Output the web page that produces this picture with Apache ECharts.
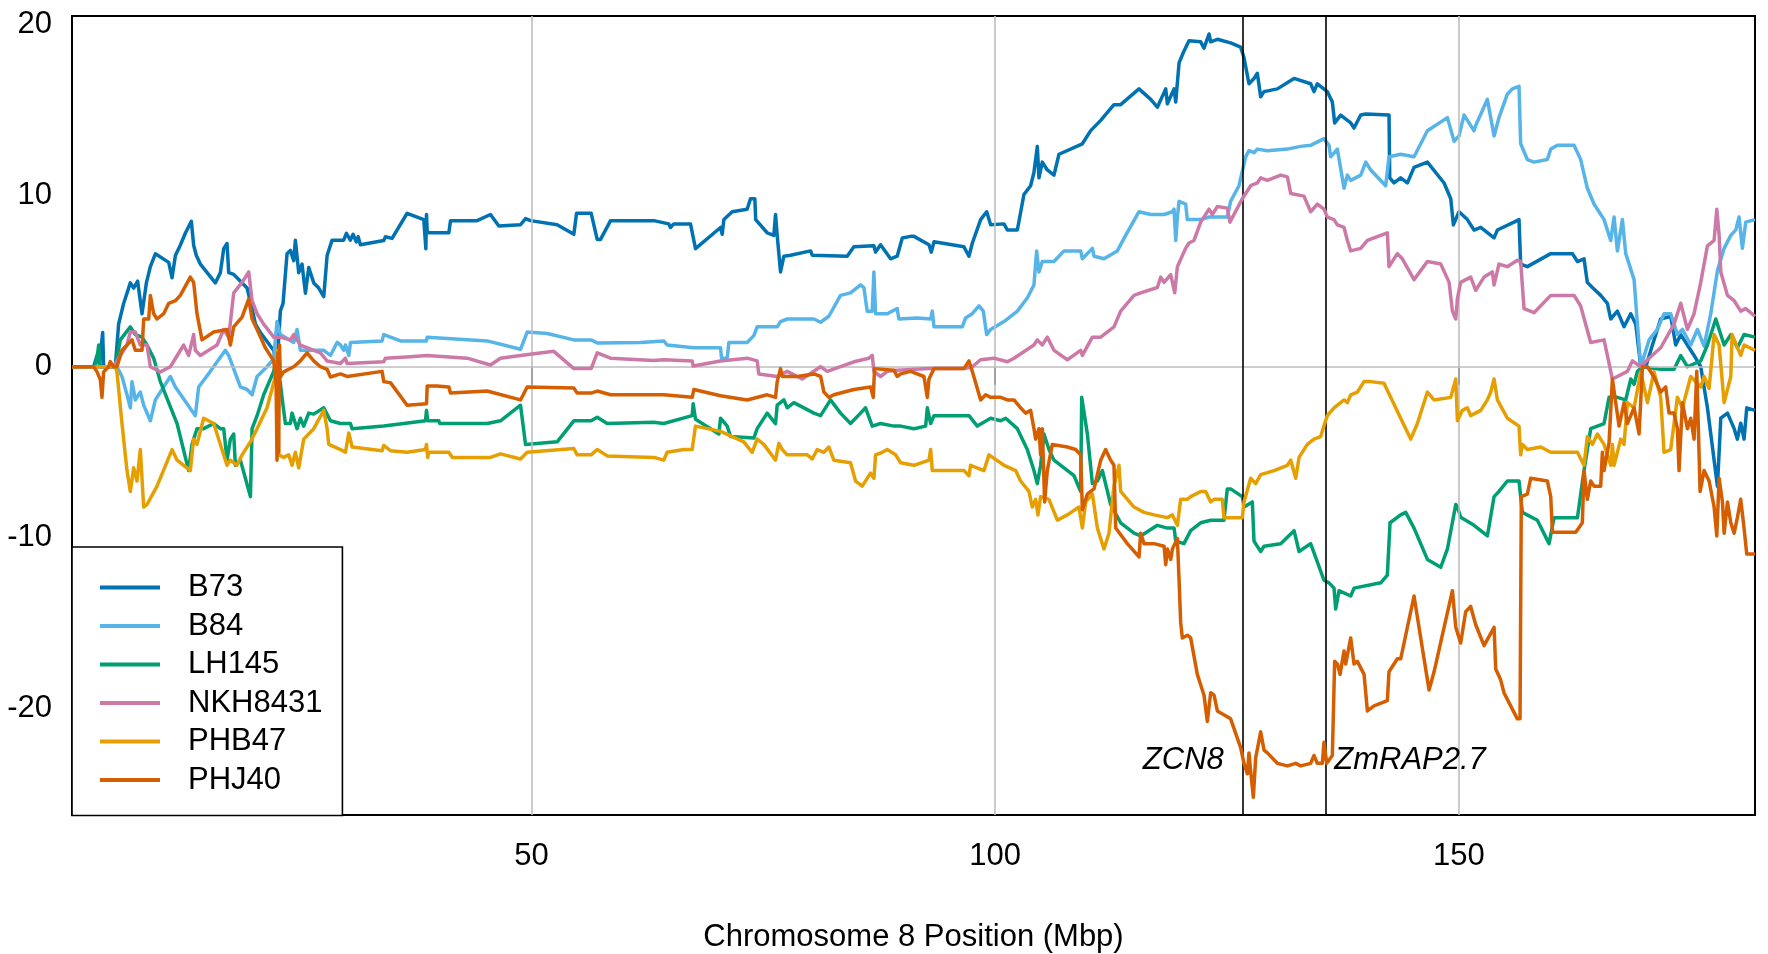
<!DOCTYPE html>
<html>
<head>
<meta charset="utf-8">
<title>Chromosome 8 cumulative effects</title>
<script src="https://cdn.jsdelivr.net/npm/echarts@6/dist/echarts.min.js"></script>
<style>
  html, body { margin: 0; padding: 0; background: #fff; }
  #chart { width: 1768px; height: 954px; }
</style>
</head>
<body>
<div id="chart"></div>
<script>
// Line names and colours (Okabe-Ito palette)
const lineNames = ['B73', 'B84', 'LH145', 'NKH8431', 'PHB47', 'PHJ40'];
const lineColors = ['#0072B2', '#56B4E9', '#009E73', '#CC79A7', '#E69F00', '#D55E00'];

// Axis ticks
const xTicks = [50, 100, 150];
const yTicks = [-20, -10, 0, 10, 20];

// Candidate genes: [position (Mbp), label]
const genePositions = [126.7, 135.7];
const geneLabels = ['ZCN8', 'ZmRAP2.7'];

// [position (Mbp), cumulative value] per line
const b73 = [[0.44,0],[2.78,0],[3.14,0.65],[3.4,0.2],[3.75,2.0],[3.85,0],[5.11,0],[5.47,2.5],[6.01,3.7],[6.73,4.9],[7.09,4.6],[7.52,5.0],[7.99,3.1],[8.46,4.9],[8.89,5.85],[9.43,6.6],[10.87,6.1],[11.23,5.2],[11.59,6.5],[12.12,7.1],[12.66,7.8],[13.31,8.5],[13.56,7.1],[13.85,6.5],[14.28,6.0],[15.9,4.9],[16.44,5.5],[16.8,6.9],[17.16,7.2],[17.34,5.5],[17.88,5.4],[18.42,5.1],[19.32,4.6],[19.86,3.4],[20.22,2.5],[20.76,2.0],[22.19,0.95],[22.55,0],[22.91,3.25],[23.2,3.7],[23.45,5.4],[23.63,6.6],[23.99,6.8],[24.35,6.2],[24.53,7.4],[24.89,5.5],[25.25,6.0],[25.61,4.3],[25.97,5.8],[26.51,4.9],[27.05,4.6],[27.59,4.1],[27.95,6.5],[28.49,7.4],[29.74,7.4],[30.03,7.8],[30.46,7.4],[30.75,7.74],[31.1,7.3],[31.3,7.6],[31.54,7.13],[34.06,7.38],[34.24,7.6],[34.96,7.5],[36.58,8.97],[38.38,8.6],[38.6,6.9],[38.67,8.9],[38.75,7.83],[41.08,7.83],[41.26,8.54],[44.13,8.54],[45.57,8.9],[46.47,8.23],[48.81,8.3],[49.35,8.66],[49.89,8.54],[52.76,8.3],[54.56,7.74],[54.85,8.97],[56.43,8.97],[57.08,7.44],[57.44,7.44],[58.52,8.54],[63.19,8.54],[64.8,8.35],[64.98,8.14],[65.34,8.35],[67.14,8.35],[67.68,6.9],[70.38,8.14],[70.56,7.74],[70.74,8.6],[71.64,9.06],[73.25,9.21],[73.61,9.82],[74.08,9.82],[74.17,8.6],[75.41,7.83],[76.13,7.68],[76.31,8.9],[76.49,7.68],[76.85,5.54],[77.21,6.46],[77.93,6.52],[80.09,6.77],[80.27,6.52],[84.04,6.46],[84.76,7.01],[86.92,7.07],[87.1,6.7],[87.64,7.13],[88.72,6.31],[89.43,6.46],[89.98,7.53],[90.87,7.62],[91.24,7.62],[92.86,7.13],[93.11,6.7],[93.4,7.3],[96.63,7.01],[97.17,6.46],[97.53,7.22],[98.43,8.6],[99.08,9.06],[99.51,8.3],[100.95,8.35],[101.31,7.99],[102.39,7.99],[103.1,10.07],[103.82,10.58],[104.18,11.35],[104.54,12.88],[104.72,11.04],[105.08,11.96],[105.62,11.5],[106.34,11.2],[106.88,12.42],[109.4,13.03],[110.3,13.8],[111.38,14.4],[112.81,15.32],[113.53,15.32],[115.51,16.24],[116.77,15.63],[117.49,15.17],[118.39,16.24],[118.57,15.37],[119.29,16.24],[119.47,15.47],[119.83,17.76],[120.3,18.38],[120.9,19.05],[122.16,18.99],[122.52,18.62],[123.06,19.45],[123.24,18.99],[123.96,19.14],[125.39,18.93],[126.47,18.68],[126.83,18.07],[127.37,16.54],[127.91,16.85],[128.27,17.15],[128.63,15.78],[128.99,16.08],[130.43,16.24],[132.23,16.85],[134.02,16.54],[134.38,16.08],[134.74,16.54],[135.82,16.08],[136.36,15.47],[136.61,14.25],[137.26,14.71],[138.34,14.25],[138.7,13.95],[139.42,14.71],[139.96,14.77],[142.47,14.71],[142.55,11.04],[143.01,10.74],[143.73,11.04],[144.45,10.74],[145.17,11.65],[146.61,11.96],[148.41,10.74],[149.13,9.82],[149.41,8.29],[150.02,9.06],[150.92,8.6],[151.64,7.99],[152.36,8.15],[153.8,7.53],[154.16,7.99],[155.95,8.45],[156.49,8.6],[156.67,6.0],[157.39,5.85],[159.91,6.61],[162.25,6.61],[162.79,6.15],[163.5,6.31],[163.86,4.93],[164.4,4.63],[165.3,4.17],[166.02,3.71],[166.38,2.79],[167.1,3.25],[167.82,2.34],[168.54,3.1],[169.08,2.49],[169.62,0],[170.16,0],[170.88,1.27],[171.77,2.79],[172.85,2.95],[173.39,1.27],[173.93,1.88],[175.37,0.66],[176.09,0],[176.81,-2.4],[177.53,-5.46],[177.89,-6.98],[178.25,-3.01],[178.97,-2.71],[179.69,-3.62],[180.04,-4.23],[180.4,-3.3],[180.76,-4.23],[181.05,-2.4],[181.94,-2.55]];

const b84 = [[0.44,0],[5.29,0],[5.83,-0.57],[6.37,-1.64],[6.73,-2.4],[6.91,-0.87],[7.27,-1.94],[7.81,-1.48],[8.17,-2.25],[8.89,-3.16],[9.43,-1.94],[9.97,-1.48],[11.05,-0.57],[11.59,-1.18],[13.74,-2.86],[14.1,-1.18],[15.36,-0.27],[16.98,0.96],[17.34,0.66],[18.6,-1.18],[19.32,-1.33],[19.86,-1.64],[20.4,-0.57],[21.47,0],[22.19,0.46],[22.55,2.64],[22.91,1.88],[24.35,1.42],[24.71,2.18],[25.07,0.96],[27.59,0.96],[28.31,0.66],[29.03,1.42],[29.39,1.27],[29.75,0.96],[29.93,1.27],[30.29,0.66],[30.47,1.42],[33.88,1.51],[34.06,1.88],[35.86,1.51],[38.67,1.51],[38.75,1.73],[45.21,1.51],[48.81,1.02],[49.53,2.03],[51.69,1.94],[54.56,1.57],[56.43,1.57],[57.08,1.39],[61.75,1.42],[64.26,1.51],[64.62,1.27],[67.5,1.11],[70.38,1.11],[70.49,0.5],[71.1,0.5],[71.28,1.42],[73.25,1.42],[73.97,1.82],[74.33,2.33],[76.49,2.33],[76.85,2.64],[77.57,2.79],[80.45,2.79],[81.17,2.6],[82.06,2.95],[83.32,4.17],[84.4,4.32],[85.48,4.78],[85.84,4.63],[86.2,3.25],[86.74,3.25],[86.92,5.54],[87.1,3.1],[88.36,3.1],[89.43,3.4],[89.61,2.79],[91.6,2.85],[93.04,2.79],[93.22,3.25],[93.4,2.33],[96.45,2.33],[96.81,2.85],[97.53,3.1],[98.25,3.56],[98.72,3.25],[99.08,1.88],[99.51,2.18],[100.95,2.64],[102.39,3.25],[103.46,4.02],[104.18,4.78],[104.47,6.77],[104.72,5.54],[105.08,6.15],[106.34,6.15],[107.42,6.77],[109.22,6.77],[109.4,6.31],[110.48,6.92],[110.66,6.46],[111.73,6.31],[113.17,6.77],[114.07,7.68],[115.51,9.06],[116.77,8.9],[118.21,8.9],[119.11,9.06],[119.29,9.21],[119.47,7.38],[119.65,8.75],[119.83,9.67],[120.54,9.51],[120.72,8.6],[122.16,8.6],[123.06,8.75],[125.03,8.75],[125.39,9.67],[126.29,10.58],[127.01,12.27],[127.37,12.63],[127.91,12.51],[128.27,12.72],[129.35,12.63],[131.51,12.72],[132.94,12.88],[134.02,12.94],[135.46,13.33],[136.0,12.94],[136.18,12.27],[136.9,12.72],[137.62,10.43],[137.98,11.2],[138.34,10.89],[139.42,11.2],[139.96,11.96],[140.5,11.5],[142.11,10.58],[142.47,12.27],[143.73,12.42],[145.17,12.27],[145.89,13.03],[146.61,13.79],[148.77,14.56],[149.49,13.18],[150.02,13.49],[150.56,14.71],[151.1,14.25],[151.64,13.79],[151.82,14.1],[153.08,15.63],[153.8,13.49],[154.33,14.56],[155.23,15.93],[155.77,16.24],[156.49,16.39],[156.67,13.03],[157.39,12.11],[158.11,11.96],[159.55,12.11],[159.91,12.72],[160.63,12.94],[162.43,12.94],[163.14,12.11],[163.86,10.43],[164.58,9.51],[165.66,8.6],[166.38,7.38],[166.74,8.75],[167.1,6.77],[167.64,8.6],[168.0,6.61],[168.9,5.09],[169.26,2.49],[169.62,0],[170.52,1.57],[171.41,2.18],[172.13,3.1],[172.85,3.1],[173.57,1.88],[174.11,2.18],[175.01,1.27],[175.73,2.18],[176.45,1.2],[177.17,3.1],[177.89,5.63],[178.61,6.92],[179.33,7.68],[179.87,8.0],[180.22,8.75],[180.58,6.92],[180.94,8.45],[181.94,8.6]];

const lh145 = [[0.44,0],[2.96,0],[3.14,0.5],[3.32,1.27],[3.5,0],[5.11,0],[5.65,1.57],[6.73,2.33],[7.27,1.88],[7.99,1.73],[8.53,1.27],[9.25,0.5],[9.97,-0.87],[11.77,-3.32],[13.02,-6.07],[13.38,-4.54],[13.56,-4.23],[13.92,-3.62],[14.64,-3.62],[15.72,-3.32],[16.44,-3.62],[16.8,-3.62],[17.16,-5.46],[17.52,-4.23],[17.88,-3.93],[18.06,-5.76],[18.6,-5.46],[19.14,-6.52],[19.68,-7.59],[19.86,-3.62],[20.4,-2.86],[21.11,-1.64],[22.19,-0.27],[22.55,0.6],[23.09,-1.79],[23.45,-3.32],[23.99,-3.32],[24.17,-2.71],[24.71,-3.62],[25.07,-3.01],[25.43,-3.47],[25.97,-2.71],[26.51,-2.77],[27.59,-2.4],[28.31,-3.16],[29.39,-3.32],[30.47,-3.32],[30.65,-3.62],[34.06,-3.47],[36.22,-3.32],[38.56,-3.16],[38.67,-2.55],[38.8,-3.16],[40.0,-3.16],[40.1,-3.32],[41.26,-3.32],[45.21,-3.32],[46.65,-3.16],[48.81,-2.25],[49.35,-4.54],[52.76,-4.39],[54.56,-3.16],[56.43,-3.16],[57.08,-2.95],[58.16,-3.32],[63.19,-3.25],[64.26,-3.32],[67.32,-2.86],[67.43,-2.16],[67.68,-3.07],[70.2,-3.93],[70.38,-3.01],[71.1,-3.47],[71.46,-4.08],[73.97,-4.17],[74.33,-3.62],[75.41,-2.71],[76.31,-3.32],[76.49,-2.25],[77.21,-1.94],[77.57,-2.4],[78.29,-2.1],[80.45,-2.71],[81.17,-2.86],[82.24,-1.94],[83.32,-2.71],[84.4,-3.32],[85.48,-2.71],[86.02,-2.4],[86.74,-3.47],[87.64,-3.32],[89.08,-3.47],[89.8,-3.47],[91.24,-3.62],[92.5,-3.47],[92.68,-2.4],[93.04,-3.32],[93.4,-2.86],[97.17,-2.86],[98.07,-3.47],[99.51,-3.01],[100.59,-3.16],[101.13,-3.01],[102.39,-3.62],[103.46,-4.84],[104.18,-6.07],[104.54,-6.83],[104.9,-5.76],[105.26,-3.93],[105.8,-4.84],[106.34,-5.46],[108.5,-6.37],[109.22,-7.29],[109.33,-1.79],[109.94,-3.93],[110.48,-6.83],[111.02,-6.68],[111.56,-6.07],[112.45,-8.05],[113.53,-9.12],[114.97,-9.73],[115.69,-9.89],[117.49,-9.27],[118.57,-9.43],[119.29,-9.43],[119.47,-10.19],[120.36,-10.34],[121.08,-9.58],[122.16,-9.12],[123.24,-8.97],[124.67,-8.97],[125.03,-7.14],[125.39,-7.14],[126.65,-7.59],[126.83,-8.2],[127.73,-7.9],[127.91,-10.19],[128.63,-10.8],[128.99,-10.49],[130.79,-10.34],[132.23,-9.58],[132.77,-10.8],[134.02,-10.34],[135.46,-12.48],[136.0,-12.63],[136.54,-12.94],[136.72,-14.16],[137.08,-13.09],[138.34,-13.4],[138.7,-12.94],[141.58,-12.63],[142.29,-12.18],[142.58,-9.12],[143.73,-8.66],[144.27,-8.51],[145.17,-9.43],[146.61,-11.26],[148.05,-11.72],[148.77,-10.65],[149.67,-8.05],[149.85,-8.2],[150.2,-8.8],[151.64,-9.27],[153.08,-9.89],[153.8,-7.59],[154.33,-7.29],[155.23,-6.68],[156.49,-6.68],[156.85,-8.51],[158.47,-8.97],[159.73,-10.34],[160.27,-8.82],[162.79,-8.82],[163.5,-6.07],[164.22,-3.62],[165.66,-3.32],[166.2,-1.79],[167.1,-1.79],[168.0,-1.94],[168.54,-0.72],[168.9,-1.02],[169.26,-0.27],[169.8,0],[171.77,-0.15],[173.21,-0.15],[173.93,0.65],[174.65,0],[176.09,0.34],[176.81,1.27],[177.71,2.79],[178.61,1.27],[179.33,1.88],[180.04,1.11],[180.76,1.88],[181.94,1.73]];

const nkh8431 = [[0.44,0],[4.93,0],[5.65,0.66],[6.37,1.27],[6.73,2.03],[7.27,2.03],[7.81,1.27],[8.53,1.27],[8.89,0],[9.97,-0.3],[11.05,0],[12.48,1.27],[13.02,0.66],[13.56,1.88],[13.74,0.96],[14.28,0.66],[16.08,1.27],[16.8,2.18],[17.34,1.73],[17.88,4.32],[18.78,4.93],[19.5,5.54],[19.86,3.86],[20.4,3.1],[21.11,2.49],[22.19,1.73],[22.91,1.73],[23.99,1.57],[24.35,1.88],[25.07,1.27],[27.23,0.81],[27.95,0.34],[29.39,0.19],[29.93,0.5],[30.11,0.19],[34.06,0.29],[34.24,0.5],[36.94,0.59],[38.74,0.66],[43.05,0.5],[45.57,0.1],[46.65,0.5],[48.81,0.66],[52.4,0.9],[54.56,-0.11],[56.43,-0.11],[57.08,0.81],[58.52,0.5],[63.19,0.36],[64.26,0.41],[67.32,0.34],[67.43,0.04],[70.38,0.34],[73.25,0.5],[74.33,0.34],[74.51,-0.42],[76.49,-0.57],[77.57,-0.27],[79.19,-0.72],[81.17,0],[81.89,-0.27],[84.76,0.29],[86.38,0.5],[86.74,0.66],[86.92,-0.27],[87.64,-0.57],[88.36,-0.27],[89.43,-0.2],[92.86,-0.11],[96.63,-0.11],[97.53,0],[98.43,0.41],[99.87,0.5],[101.31,0.29],[102.03,0.5],[104.18,1.27],[104.54,1.57],[105.08,1.27],[105.62,1.73],[106.34,0.96],[107.78,0.41],[109.22,0.96],[109.4,0.66],[110.48,1.73],[111.38,1.73],[112.81,2.33],[113.53,3.25],[114.97,4.17],[115.69,4.32],[117.49,4.63],[117.85,5.24],[118.21,4.93],[118.93,5.39],[119.36,4.32],[119.65,5.85],[120.54,6.92],[120.9,7.23],[121.44,7.38],[122.16,8.45],[123.06,9.21],[123.42,8.9],[123.96,9.36],[125.03,9.27],[125.32,8.45],[126.65,9.82],[127.55,10.58],[128.27,10.74],[128.63,11.04],[129.35,10.89],[130.79,11.2],[131.51,11.1],[131.87,10.13],[133.3,9.97],[134.02,9.06],[134.74,9.51],[135.46,9.21],[135.82,8.75],[136.54,8.6],[136.9,8.29],[137.62,8.14],[137.98,7.38],[138.34,6.77],[139.42,6.92],[140.14,7.38],[142.29,7.83],[142.47,5.85],[143.37,6.61],[143.91,6.31],[145.17,5.09],[146.61,6.15],[148.05,6.0],[148.95,4.93],[149.31,3.25],[149.67,2.79],[149.85,4.0],[150.2,4.93],[151.28,5.24],[151.82,4.47],[152.72,5.24],[153.62,5.54],[153.8,4.78],[154.33,6.0],[155.23,5.85],[156.31,6.22],[156.67,6.15],[157.03,3.4],[158.11,3.16],[159.91,4.17],[162.43,4.17],[163.14,3.55],[164.22,1.42],[165.66,1.57],[166.02,0.66],[166.56,-0.72],[168.18,-0.27],[168.72,0.34],[169.62,0],[170.52,0.5],[171.77,1.11],[173.21,2.49],[173.93,3.71],[174.65,2.18],[175.37,3.1],[176.09,4.93],[176.81,7.07],[177.53,7.38],[177.82,9.21],[178.07,7.7],[178.25,5.54],[178.97,4.17],[179.69,3.86],[180.4,3.25],[180.94,3.4],[181.94,2.95]];

const phb47 = [[0.44,0],[5.11,0],[5.29,-0.3],[5.83,-3.32],[6.37,-6.07],[6.73,-7.29],[7.09,-5.91],[7.45,-6.68],[7.81,-4.84],[8.17,-8.2],[8.53,-8.05],[9.61,-6.98],[11.23,-4.84],[11.77,-5.46],[13.2,-6.07],[13.56,-4.23],[13.92,-4.54],[14.64,-3.01],[15.72,-3.32],[17.16,-5.76],[17.52,-5.46],[18.24,-5.76],[18.78,-5.15],[19.68,-4.39],[20.4,-3.62],[21.47,-2.4],[22.37,-0.57],[22.55,0.96],[22.73,-5.15],[23.27,-5.3],[23.81,-5.15],[24.17,-5.76],[24.53,-5.0],[24.89,-5.91],[25.43,-4.23],[26.51,-3.62],[27.59,-2.55],[27.95,-3.62],[28.13,-4.54],[29.39,-4.84],[29.93,-5.0],[30.29,-3.87],[30.65,-4.69],[33.88,-4.91],[34.06,-4.6],[34.78,-4.91],[36.58,-5.0],[38.56,-4.84],[38.67,-4.54],[38.8,-5.3],[38.92,-5.0],[41.08,-5.0],[41.44,-5.3],[45.57,-5.3],[46.65,-5.09],[48.81,-5.39],[49.53,-5.0],[54.56,-4.78],[54.92,-5.15],[56.43,-5.15],[57.08,-4.84],[58.16,-5.21],[63.19,-5.3],[64.26,-5.46],[64.62,-5.0],[66.42,-4.84],[67.32,-4.84],[67.68,-3.47],[70.38,-3.78],[72.89,-4.39],[73.79,-5.0],[74.33,-4.23],[75.05,-4.54],[76.31,-5.46],[76.67,-4.48],[77.03,-4.84],[77.57,-5.15],[79.73,-5.15],[80.27,-5.39],[80.81,-4.84],[81.53,-5.0],[82.06,-4.69],[82.6,-5.46],[84.4,-5.61],[84.94,-6.68],[85.66,-6.98],[86.56,-6.22],[86.92,-6.52],[87.1,-5.15],[87.82,-5.0],[88.36,-4.84],[89.26,-5.15],[89.8,-5.61],[91.24,-5.76],[92.86,-5.46],[93.04,-4.84],[93.22,-6.07],[96.63,-6.07],[97.17,-6.37],[97.35,-5.76],[98.79,-6.07],[99.15,-5.46],[99.33,-5.15],[100.95,-5.76],[102.21,-6.07],[102.74,-6.68],[103.64,-7.29],[104.0,-8.2],[104.36,-7.75],[104.61,-8.66],[104.9,-7.59],[105.8,-7.75],[106.7,-8.97],[107.78,-8.66],[109.04,-8.2],[109.4,-9.43],[109.76,-7.9],[110.48,-7.44],[111.02,-9.43],[111.73,-10.65],[112.27,-9.73],[112.81,-6.98],[113.35,-5.76],[113.53,-7.29],[114.97,-8.2],[116.05,-8.51],[117.13,-8.66],[118.57,-8.82],[119.11,-8.66],[119.65,-9.27],[120.0,-7.75],[120.72,-7.75],[121.08,-7.59],[122.16,-7.29],[122.7,-7.29],[123.24,-7.9],[123.6,-7.75],[124.49,-7.75],[124.67,-8.82],[126.65,-8.82],[126.83,-7.9],[127.55,-6.52],[128.09,-6.83],[128.63,-6.31],[130.07,-6.07],[131.51,-5.76],[131.87,-5.46],[132.41,-6.52],[132.77,-5.3],[133.66,-4.54],[134.38,-4.23],[135.1,-4.08],[135.53,-3.32],[135.82,-2.86],[136.54,-2.4],[137.62,-1.94],[137.98,-2.1],[138.34,-1.64],[139.06,-1.48],[139.78,-0.87],[140.5,-0.87],[141.93,-0.96],[142.65,-1.79],[143.73,-3.01],[144.81,-4.23],[145.53,-3.32],[146.61,-1.48],[147.33,-1.94],[149.13,-1.79],[149.67,-0.72],[149.85,-3.16],[150.38,-2.55],[150.92,-2.4],[151.28,-2.86],[152.36,-2.55],[153.08,-1.94],[153.44,-1.48],[153.8,-0.72],[154.16,-1.94],[155.23,-3.01],[156.49,-3.47],[156.67,-5.15],[156.85,-4.54],[157.39,-4.84],[158.83,-4.69],[159.91,-5.0],[162.79,-5.0],[163.5,-5.76],[163.86,-4.08],[164.4,-4.54],[164.94,-3.93],[165.66,-4.54],[166.38,-5.76],[166.56,-4.54],[166.74,-5.76],[167.46,-4.23],[167.82,-4.54],[168.18,-2.1],[168.9,-2.4],[169.62,-0.3],[170.34,-2.1],[171.05,-0.3],[171.77,-1.79],[172.13,-5.0],[172.85,-4.84],[173.57,-1.79],[174.11,-2.4],[175.01,-0.57],[176.09,-1.18],[176.45,-0.57],[176.99,-1.27],[177.53,1.88],[178.07,1.27],[178.61,-2.1],[179.33,-0.57],[179.47,1.88],[180.4,0.66],[180.76,1.27],[181.94,0.96]];

const phj40 = [[0.44,0],[2.78,0],[3.14,-0.3],[3.5,-0.76],[3.67,-1.79],[3.85,-0.3],[4.39,0],[4.57,0.3],[4.93,0],[5.29,0],[5.83,0.96],[6.37,1.27],[6.91,1.57],[7.27,0.96],[7.99,0.96],[8.17,2.79],[8.71,2.79],[8.89,4.17],[9.25,3.1],[9.61,2.79],[10.33,3.1],[10.87,3.71],[11.59,3.86],[12.12,4.17],[13.2,5.24],[13.56,4.93],[13.92,3.1],[14.46,1.57],[15.72,2.03],[17.16,2.18],[17.52,1.27],[17.88,2.33],[18.78,2.9],[19.5,3.97],[19.86,2.79],[20.4,2.18],[21.29,1.11],[22.19,0.34],[22.45,-1.0],[22.55,-5.46],[22.64,0.8],[22.73,-5.0],[22.82,1.27],[22.91,-0.6],[23.27,-0.3],[24.35,0],[25.07,0.34],[25.79,0.81],[26.51,0.34],[27.23,0],[27.95,-0.15],[28.31,-0.6],[29.39,-0.42],[30.11,-0.57],[33.88,-0.27],[34.06,-0.87],[34.78,-0.93],[36.58,-2.25],[38.67,-2.16],[38.75,-1.12],[39.8,-1.12],[41.08,-1.18],[41.26,-1.54],[45.21,-1.42],[48.81,-1.94],[49.53,-1.18],[54.56,-1.24],[54.92,-1.54],[56.43,-1.54],[57.08,-1.42],[58.52,-1.64],[63.19,-1.64],[64.26,-1.64],[67.32,-1.79],[67.5,-1.33],[70.38,-1.7],[73.25,-1.94],[75.41,-1.64],[76.31,-1.79],[76.49,-0.87],[76.85,-0.11],[77.03,-0.57],[78.65,-0.57],[80.45,-0.42],[81.17,-0.57],[81.53,-1.48],[82.06,-1.79],[82.6,-1.64],[84.76,-1.33],[86.56,-1.18],[86.85,-1.79],[86.99,-0.11],[89.08,-0.2],[89.43,-0.57],[89.8,-0.42],[90.87,-0.27],[92.32,-0.57],[92.68,-1.79],[92.86,-0.72],[93.4,-0.11],[96.63,-0.11],[97.17,0.34],[97.53,-0.27],[98.43,-1.94],[98.97,-1.64],[99.51,-1.79],[100.59,-1.79],[101.31,-1.94],[102.03,-1.94],[102.74,-2.4],[103.28,-2.71],[103.82,-2.55],[104.18,-3.62],[104.36,-4.23],[104.72,-3.62],[104.9,-5.15],[105.08,-3.62],[105.33,-7.9],[105.62,-6.07],[106.16,-4.54],[107.78,-4.69],[108.68,-4.84],[109.22,-5.15],[109.4,-8.36],[109.94,-7.44],[110.3,-7.29],[110.66,-7.14],[111.38,-5.46],[111.91,-4.84],[112.45,-5.46],[112.81,-5.76],[113.0,-9.43],[114.25,-10.34],[115.51,-11.11],[115.69,-9.73],[116.05,-10.34],[117.13,-10.34],[118.21,-10.49],[118.39,-11.57],[118.57,-10.65],[118.93,-11.26],[119.11,-10.65],[119.65,-10.04],[119.83,-12.48],[120.0,-14.93],[120.18,-15.85],[120.72,-15.69],[121.08,-15.85],[121.8,-17.98],[122.52,-19.2],[122.88,-20.73],[123.24,-19.05],[123.6,-19.2],[123.96,-20.12],[125.39,-20.58],[126.47,-22.26],[126.83,-23.18],[127.19,-23.79],[127.37,-22.57],[127.55,-23.64],[127.84,-25.16],[128.09,-22.87],[128.63,-21.34],[128.99,-22.41],[129.35,-22.57],[130.43,-23.18],[131.51,-23.33],[132.41,-23.18],[132.94,-23.33],[134.02,-23.18],[134.38,-22.72],[134.74,-23.18],[135.28,-23.18],[135.46,-21.95],[135.75,-23.18],[136.36,-22.72],[136.61,-17.22],[136.9,-17.37],[137.19,-17.98],[137.62,-16.61],[137.8,-17.37],[138.34,-15.85],[138.7,-17.37],[139.06,-17.22],[139.78,-17.98],[140.14,-20.12],[140.86,-19.82],[142.29,-19.51],[142.47,-17.83],[143.37,-17.07],[143.73,-17.07],[145.17,-13.4],[145.89,-15.85],[146.79,-18.9],[147.33,-17.83],[148.41,-15.23],[149.31,-13.09],[149.67,-15.23],[150.02,-15.84],[150.2,-16.15],[150.74,-14.32],[151.28,-14.01],[151.82,-15.08],[152.72,-16.3],[153.8,-15.23],[153.98,-17.67],[154.51,-18.3],[154.87,-19.05],[155.59,-19.82],[156.31,-20.58],[156.6,-20.58],[156.74,-7.59],[157.39,-7.44],[157.75,-6.52],[159.55,-6.68],[159.91,-7.59],[160.09,-9.67],[162.61,-9.67],[163.32,-9.12],[163.5,-6.07],[163.86,-7.75],[164.22,-6.68],[164.58,-6.98],[165.3,-6.98],[165.48,-5.0],[165.66,-6.07],[166.2,-4.45],[166.56,-0.72],[166.92,-2.1],[167.28,-3.47],[167.82,-2.1],[168.18,-3.32],[168.54,-2.86],[168.9,-2.4],[169.44,-3.93],[169.8,0],[170.34,0],[171.05,-0.6],[171.77,-1.48],[172.31,-1.18],[172.67,-2.71],[173.21,-2.71],[173.57,-3.62],[173.75,-6.07],[174.11,-2.1],[174.65,-3.62],[175.01,-3.01],[175.37,-4.23],[175.66,-0.27],[176.02,-7.29],[176.45,-6.07],[176.99,-6.68],[177.53,-8.2],[177.82,-9.89],[178.07,-6.52],[178.43,-7.9],[178.61,-9.73],[178.97,-7.9],[179.33,-9.12],[179.69,-9.73],[180.04,-8.82],[180.4,-7.75],[180.76,-9.43],[181.05,-10.95],[181.94,-10.95]];

const lineData = [b73, b84, lh145, nkh8431, phb47, phj40];

const FONT = '"Liberation Sans", Arial, Helvetica, sans-serif';
const chart = echarts.init(document.getElementById('chart'), null, { renderer: 'canvas' });

const series = [];

// Reference lines: vertical grid at the x ticks, horizontal line at zero
series.push({
  type: 'line',
  name: 'grid',
  data: [],
  z: 1,
  silent: true,
  markLine: {
    silent: true,
    symbol: ['none', 'none'],
    label: { show: false },
    animation: false,
    lineStyle: { color: '#BEBEBE', width: 1.6, type: 'solid' },
    data: xTicks.map(v => ({ xAxis: v })).concat([{ yAxis: 0 }])
  }
});

lineNames.forEach((name, i) => {
  series.push({
    type: 'line',
    name: name,
    data: lineData[i],
    showSymbol: false,
    symbol: 'none',
    z: 2 + i,
    lineStyle: { color: lineColors[i], width: 3.5, join: 'round' },
    itemStyle: { color: lineColors[i] },
    animation: false
  });
});

// Candidate gene positions with their names
series.push({
  type: 'scatter',
  name: 'genes',
  z: 20,
  symbolSize: 0,
  data: genePositions.map((x, i) => ({
    value: [x, -23, geneLabels[i]],
    label: {
      position: i === 0 ? 'left' : 'right',
      distance: i === 0 ? 19 : 8
    }
  })),
  label: {
    show: true,
    formatter: p => p.value[2],
    fontFamily: FONT,
    fontStyle: 'italic',
    fontSize: 31,
    color: '#000',
    opacity: 1
  },
  markLine: {
    silent: true,
    symbol: ['none', 'none'],
    label: { show: false },
    animation: false,
    lineStyle: { color: '#000', width: 1.6, type: 'solid' },
    data: genePositions.map(v => ({ xAxis: v }))
  },
  animation: false
});

chart.setOption({
  backgroundColor: '#fff',
  animation: false,
  textStyle: { fontFamily: FONT, color: '#000' },
  grid: {
    left: 72, right: 13, top: 16, bottom: 139,
    outerBoundsMode: 'none',
    containLabel: false,
    show: true,
    borderColor: '#000',
    borderWidth: 2,
    backgroundColor: 'transparent'
  },
  legend: {
    data: lineNames,
    orient: 'vertical',
    left: 72,
    top: 547,
    icon: 'rect',
    itemWidth: 60,
    itemHeight: 4,
    itemGap: 7.5,
    padding: [25, 20, 20, 28],
    borderColor: '#000',
    borderWidth: 1.6,
    backgroundColor: '#fff',
    selectedMode: false,
    textStyle: {
      fontFamily: FONT,
      fontSize: 31,
      lineHeight: 31,
      color: '#000',
      padding: [0, 0, 0, 23]
    },
    z: 30
  },
  xAxis: {
    type: 'value',
    min: 0.44,
    max: 181.94,
    name: 'Chromosome 8 Position (Mbp)',
    nameLocation: 'middle',
    nameGap: 107,
    nameTextStyle: { fontFamily: FONT, fontSize: 31, color: '#000' },
    axisLine: { show: false },
    splitLine: { show: false },
    axisTick: {
      show: true,
      customValues: xTicks,
      length: 18,
      lineStyle: { color: '#000', width: 1.6 }
    },
    axisLabel: {
      customValues: xTicks,
      fontFamily: FONT,
      fontSize: 31,
      color: '#000',
      margin: 26
    }
  },
  yAxis: {
    type: 'value',
    min: -26.2,
    max: 20.5,
    axisLine: { show: false },
    splitLine: { show: false },
    axisTick: { show: false, customValues: yTicks },
    axisLabel: {
      customValues: yTicks,
      fontFamily: FONT,
      fontSize: 31,
      color: '#000',
      margin: 20,
      padding: [9, 0, 0, 0]
    }
  },
  series: series
});
</script>
</body>
</html>
